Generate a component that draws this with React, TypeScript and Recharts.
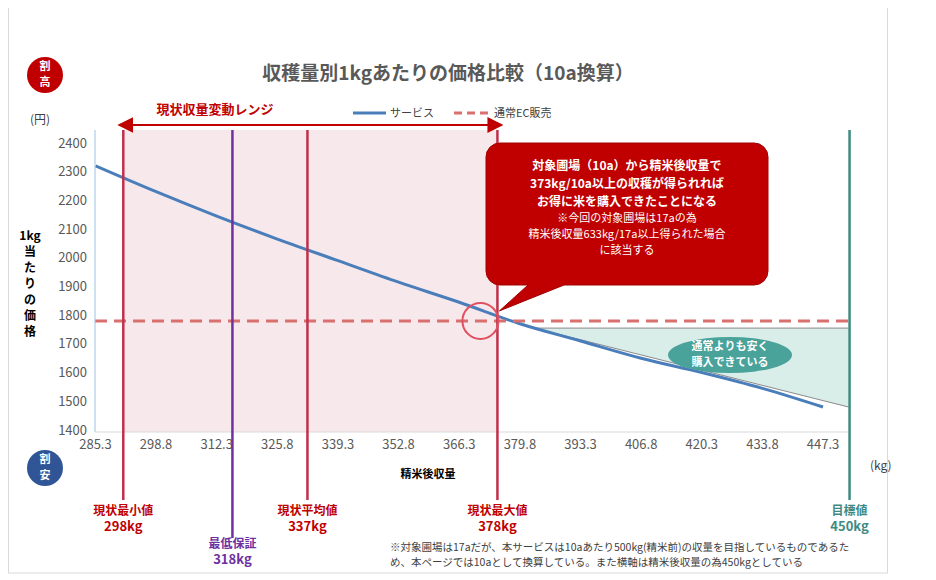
import { ComposedChart, Line, Area, XAxis, YAxis, ReferenceArea } from 'recharts';

const yieldKg = [285.3, 298.8, 312.3, 325.8, 339.3, 352.8, 366.3, 379.8, 393.3, 406.8, 420.3, 433.8, 447.3];
const servicePrice = [2320, 2230, 2145, 2065, 1990, 1915, 1845, 1770, 1710, 1650, 1600, 1545, 1480];
const ecPrice = 1780;
const xTicks = yieldKg;
const yTicks = [1400, 1500, 1600, 1700, 1800, 1900, 2000, 2100, 2200, 2300, 2400];
// saving wedge: top = flat, bottom = service line
const wedgeX = [383, 453];
const wedgeTop = [1755, 1755];
const wedgeBottom = [1755, 1480];
// vertical markers (positions as drawn on the axis)
const markers = [
  { x: 291.5, label: '現状最小値', value: '298kg', color: '#c0304a', text: '#c00000', ly: 515 },
  { x: 315.8, label: '最低保証', value: '318kg', color: '#7030a0', text: '#7030a0', ly: 548 },
  { x: 332.5, label: '現状平均値', value: '337kg', color: '#c0304a', text: '#c00000', ly: 515 },
  { x: 374.8, label: '現状最大値', value: '378kg', color: '#c0304a', text: '#c00000', ly: 515 },
  { x: 453.2, label: '目標値', value: '450kg', color: '#3e8a82', text: '#3e8a82', ly: 515 },
];

const W = 920, H = 570;
const AXW = 45, AXH = 30;
const M = { top: 122, right: 78, bottom: 146 - AXH, left: 87 - AXW };
const PL = 87, PT = 122, PR = W - 78, PB = H - 146;
const XD: [number, number] = [285.2, 453.3];
const YD: [number, number] = [1393, 2445];
const px = (v: number) => PL + ((v - XD[0]) / (XD[1] - XD[0])) * (PR - PL);
const py = (v: number) => PT + ((YD[1] - v) / (YD[1] - YD[0])) * (PB - PT);

const serviceData = yieldKg.map((x, i) => ({ x, v: servicePrice[i] }));
const ecData = [{ x: XD[0], v: ecPrice }, { x: XD[1], v: ecPrice }];
const wedgeData = wedgeX.map((x, i) => ({ x, r: [wedgeBottom[i], wedgeTop[i]] }));

const font = '"Noto Sans CJK JP", "Noto Sans", sans-serif';

export default function App() {
  const cx = px(374.8), cyI = py(ecPrice);
  return (
    <div style={{ position: 'relative', width: W, height: H, fontFamily: font }}>
      <ComposedChart width={W} height={H} margin={M}>
        <XAxis type="number" dataKey="x" domain={XD} ticks={xTicks} allowDataOverflow height={AXH}
          tick={{ fontSize: 13, fill: '#595959', fontFamily: font }} tickLine={false}
          axisLine={{ stroke: '#d9d9d9' }} tickFormatter={(v: number) => v.toFixed(1)} />
        <YAxis type="number" domain={YD} ticks={yTicks} allowDataOverflow width={AXW}
          tick={{ fontSize: 13, fill: '#595959', fontFamily: font }} tickLine={false}
          axisLine={{ stroke: '#9dc3e6' }} />
        <Area data={wedgeData} dataKey="r" type="linear" fill="#cfe8e4" fillOpacity={0.8}
          stroke="#8a8a8a" strokeWidth={1} isAnimationActive={false} />
        <Line data={serviceData} dataKey="v" type="monotone" stroke="#4a7ebb" strokeWidth={3}
          dot={false} isAnimationActive={false} />
        <Line data={ecData} dataKey="v" type="linear" stroke="#d9706f" strokeWidth={3}
          strokeDasharray="12 7" dot={false} isAnimationActive={false} />
        <ReferenceArea x1={291.5} x2={374.8} y1={YD[0]} y2={YD[1]} fill="#f1d5dc" fillOpacity={0.55} stroke="none" />
      </ComposedChart>
      <svg width={W} height={H} style={{ position: 'absolute', left: 0, top: 0 }}>
        <defs>
          <marker id="ah" markerWidth="8" markerHeight="8" refX="4" refY="4" orient="auto-start-reverse">
            <path d="M0,0 L8,4 L0,8 z" fill="#c00000" />
          </marker>
        </defs>
        <rect x={0.5} y={-10} width={879} height={H + 5} fill="none" stroke="#d9d9d9" />
        {markers.map((m) => (
          <g key={m.value}>
            <line x1={px(m.x)} x2={px(m.x)} y1={PT} y2={m.ly === 548 ? 530 : 492} stroke={m.color} strokeWidth={2.5} />
            <text x={px(m.x)} y={m.ly - 8} textAnchor="middle" fontSize={12} fontWeight="bold" fill={m.text}>{m.label}</text>
            <text x={px(m.x)} y={m.ly + 8} textAnchor="middle" fontSize={13} fontWeight="bold" fill={m.text}>{m.value}</text>
          </g>
        ))}
        <text x={440} y={72} textAnchor="middle" fontSize={19} fontWeight="bold" fill="#595959">収穫量別1kgあたりの価格比較（10a換算）</text>
        <circle cx={37} cy={67} r={18} fill="#c00000" />
        <text x={37} y={62} textAnchor="middle" fontSize={11} fontWeight="bold" fill="#fff">割</text>
        <text x={37} y={78} textAnchor="middle" fontSize={11} fontWeight="bold" fill="#fff">高</text>
        <circle cx={37} cy={460} r={18} fill="#2f5597" />
        <text x={37} y={455} textAnchor="middle" fontSize={11} fontWeight="bold" fill="#fff">割</text>
        <text x={37} y={471} textAnchor="middle" fontSize={11} fontWeight="bold" fill="#fff">安</text>
        <text x={22} y={116} fontSize={12} fill="#404040">(円)</text>
        {['1kg', '当', 'た', 'り', 'の', '価', '格'].map((c, i) => (
          <text key={i} x={22} y={232 + i * 16} textAnchor="middle" fontSize={12} fontWeight="bold" fill="#000">{c}</text>
        ))}
        <text x={862} y={462} fontSize={12} fill="#404040">(kg)</text>
        <text x={420} y={470} textAnchor="middle" fontSize={11} fontWeight="bold" fill="#000">精米後収量</text>
        <line x1={345} x2={378} y1={105} y2={105} stroke="#4a7ebb" strokeWidth={3} />
        <text x={382} y={109} fontSize={11} fill="#404040">サービス</text>
        <line x1={446} x2={482} y1={105} y2={105} stroke="#d9706f" strokeWidth={3} strokeDasharray="8 5" />
        <text x={486} y={109} fontSize={11} fill="#404040">通常EC販売</text>
        <text x={207} y={106} textAnchor="middle" fontSize={13} fontWeight="bold" fill="#c00000">現状収量変動レンジ</text>
        <line x1={px(291.5) + 2} x2={px(374.8) - 2} y1={117} y2={117} stroke="#c00000" strokeWidth={2}
          markerStart="url(#ah)" markerEnd="url(#ah)" />
        <circle cx={cx - 17} cy={cyI} r={18} fill="none" stroke="#e05060" strokeWidth={2} />
        <path d={`M492,135 h254 a14,14 0 0 1 14,14 v114 a14,14 0 0 1 -14,14 h-190 L${cx + 2},${cyI - 10} L520,277 h-28 a14,14 0 0 1 -14,-14 v-114 a14,14 0 0 1 14,-14 z`}
          fill="#c00000" stroke="#a00000" />
        <text x={619} y={162} textAnchor="middle" fontSize={12} fontWeight="bold" fill="#fff">対象圃場（10a）から精米後収量で</text>
        <text x={619} y={180} textAnchor="middle" fontSize={12} fontWeight="bold" fill="#fff">373kg/10a以上の収穫が得られれば</text>
        <text x={619} y={198} textAnchor="middle" fontSize={12} fontWeight="bold" fill="#fff">お得に米を購入できたことになる</text>
        <text x={619} y={214} textAnchor="middle" fontSize={11} fill="#fff">※今回の対象圃場は17aの為</text>
        <text x={619} y={230} textAnchor="middle" fontSize={11} fill="#fff">精米後収量633kg/17a以上得られた場合</text>
        <text x={619} y={246} textAnchor="middle" fontSize={11} fill="#fff">に該当する</text>
        <ellipse cx={722} cy={347} rx={62} ry={18} fill="#4aa39b" />
        <text x={722} y={342} textAnchor="middle" fontSize={11} fontWeight="bold" fill="#fff">通常よりも安く</text>
        <text x={722} y={358} textAnchor="middle" fontSize={11} fontWeight="bold" fill="#fff">購入できている</text>
        <text x={382} y={543} fontSize={10.5} fill="#404040">※対象圃場は17aだが、本サービスは10aあたり500kg(精米前)の収量を目指しているものであるた</text>
        <text x={382} y={558} fontSize={10.5} fill="#404040">め、本ページでは10aとして換算している。また横軸は精米後収量の為450kgとしている</text>
      </svg>
    </div>
  );
}
